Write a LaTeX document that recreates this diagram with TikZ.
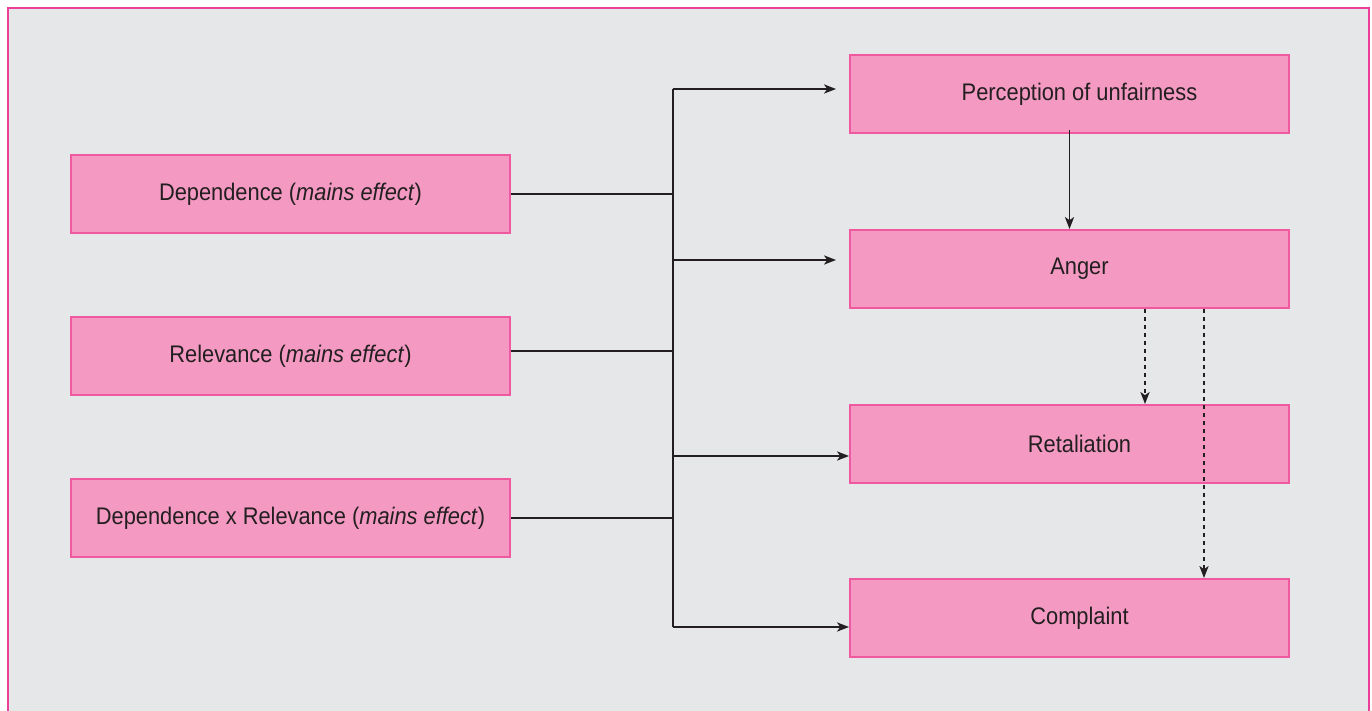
\documentclass[tikz,border=0pt]{standalone}
\usepackage{fontspec}
\setmainfont{Liberation Sans}[FakeStretch=0.91]
\usepackage{tikz}
\usetikzlibrary{arrows.meta}

\definecolor{panel}{HTML}{E6E7E9}
\definecolor{frame}{HTML}{EC3F9A}
\definecolor{boxfill}{HTML}{F49AC2}
\definecolor{boxline}{HTML}{F0589F}
\definecolor{ink}{HTML}{231F20}

\tikzset{
	factor/.style={draw=boxline, fill=boxfill, line width=1pt, text=ink,
		minimum width=219.5pt, minimum height=39pt, inner sep=0pt, font=\fontsize{12}{14}\selectfont},
	outcome/.style={factor, execute at begin node={\hspace*{10pt}}},
	link/.style={draw=ink, line width=0.7pt},
	arr/.style={link, -{Stealth[length=6pt, width=4.6pt, inset=1.6pt]}},
	dasharr/.style={arr, dash pattern=on 2pt off 2pt}
}

\begin{document}
\begin{tikzpicture}[x=0.5pt, y=-0.5pt]
		\useasboundingbox (0,0) rectangle (1372,711);
		\fill[white] (0,0) rectangle (1372,711);
		\draw[frame, fill=panel, line width=0.8pt] (8,8) rectangle (1369,730);
		% left side
		\node[factor] (dep) at (290.5,194) {Dependence (\textit{mains effect})};
		\node[factor] (rel) at (290.5,356) {Relevance (\textit{mains effect})};
		\node[factor] (dxr) at (290.5,518) {Dependence x Relevance (\textit{mains effect})};
		% right side
		\node[outcome] (perc) at (1069.5,94) {Perception of unfairness};
		\node[outcome] (anger) at (1069.5,269) {Anger};
		\node[outcome] (ret) at (1069.5,444) {Retaliation};
		\node[outcome] (compl) at (1069.5,618) {Complaint};
		% trunk
		\coordinate (t1) at (673,89);
		\coordinate (t2) at (673,260);
		\coordinate (t3) at (673,456);
		\coordinate (t4) at (673,627);
		\draw[link] (t1) -- (t4);
		\draw[link] (dep.east) -- (dep.east -| t1);
		\draw[link] ([yshift=2.5pt]rel.east) -- ([yshift=2.5pt]rel.east -| t1);
		\draw[link] (dxr.east) -- (dxr.east -| t1);
		\draw[arr, shorten >=6.5pt] (t1) -- (t1 -| perc.west);
		\draw[arr, shorten >=6.5pt] (t2) -- (t2 -| anger.west);
		\draw[arr] (t3) -- (t3 -| ret.west);
		\draw[arr] (t4) -- (t4 -| compl.west);
		% mediation
		\draw[arr] ([yshift=2pt]perc.south) -- (anger.north);
		\draw[dasharr] ([xshift=37.75pt]anger.south) -- ([xshift=37.75pt]ret.north);
		\draw[dasharr] ([xshift=67.25pt]anger.south) -- ([xshift=67.25pt]compl.north);
		\end{tikzpicture}
\end{document}
